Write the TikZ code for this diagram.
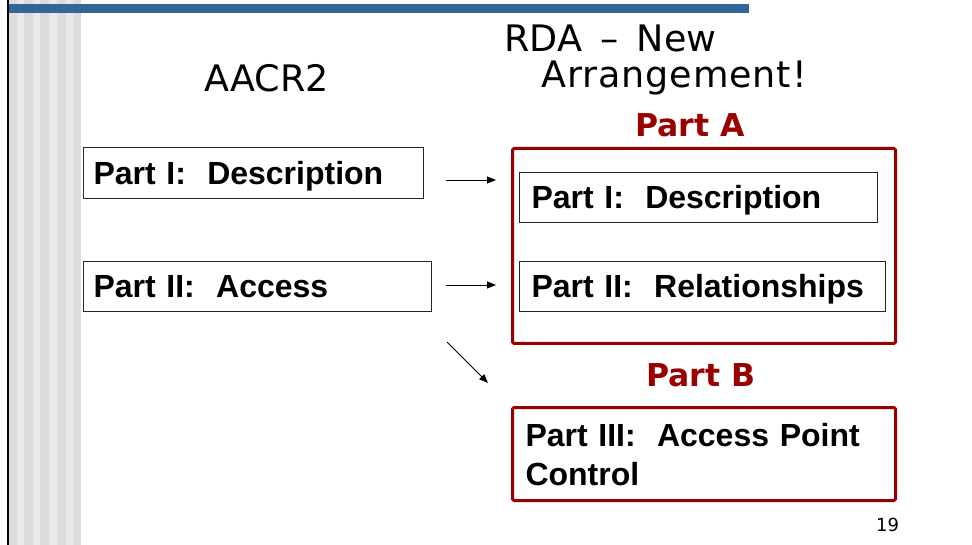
\documentclass[tikz,border=0pt]{standalone}
\usepackage{fontspec}
\setmainfont{Liberation Sans}
\newfontfamily\dvs{DejaVu Sans}
\usetikzlibrary{arrows.meta}
\definecolor{stripeD}{HTML}{DCDCDC}
\definecolor{stripeL}{HTML}{E9E9E9}
\definecolor{barblue}{HTML}{32669A}
\definecolor{darkred}{HTML}{990000}
\begin{document}
\begin{tikzpicture}[x=1pt,y=-1pt,
  plainbox/.style={draw=black!85, line width=1pt, anchor=north west, inner xsep=10pt, inner ysep=0pt,
    text height=23pt, text depth=0pt, align=left, font=\fontsize{32}{39}\selectfont\bfseries},
  redbox/.style={draw=darkred, line width=3pt, rounded corners=1.5pt, anchor=north west, inner sep=0pt},
  titletext/.style={anchor=base west, inner sep=0pt, font=\dvs\fontsize{36.5}{43}\selectfont},
  parthead/.style={anchor=base west, inner sep=0pt, text=darkred, font=\dvs\fontsize{31.5}{36}\selectfont\bfseries},
  arr/.style={-{Triangle[length=9pt,width=7pt]}, line width=0.8pt, black}]
\useasboundingbox (0,0) rectangle (972,545);
% left stripes
\fill[stripeD] (8.5,0) rectangle (80.7,545);
\foreach \a/\b in {16.7/24, 32.7/40, 49/57, 65.7/73}
  \fill[stripeL] (\a,0) rectangle (\b,545);
\fill[black] (7.3,0) rectangle (8.7,545);
% top bar
\fill[barblue] (9,4) rectangle (749,13);
% titles
\node[titletext] (aacr) at (204,92) {AACR2};
\node[titletext] (rda1) at (504,52) {RDA\hspace{0.5em}–\hspace{0.5em}New};
\node[titletext] (rda2) at (541,88) {\addfontfeatures{LetterSpace=2.5}Arrangement!};
\node[parthead] (pa) at (635,137) {Part A};
\node[parthead] (pb) at (646,386) {Part B};
% left boxes
\node[plainbox, text width=320pt, minimum height=51pt] (L1) at (83,147) {Part I:\ \ Description};
\node[plainbox, text width=328pt, minimum height=50pt] (L2) at (83,261) {Part II:\ \ Access};
% part A group
\node[redbox, minimum width=383pt, minimum height=195pt] (A) at (511,147) {};
\node[plainbox, inner xsep=12pt, text width=334pt, minimum height=50pt] (R1) at (519,172) {Part I:\ \ Description};
\node[plainbox, inner xsep=12pt, text width=342pt, minimum height=50pt] (R2) at (519,261) {Part II:\ \ Relationships};
% part B box
\node[redbox, inner xsep=13pt, text width=357pt, minimum height=93pt, align=left,
  text height=23pt, text depth=39pt, font=\fontsize{32}{39}\selectfont\bfseries] (B) at (511,406)
  {Part III:\ \ Access Point\\Control};
% arrows
\coordinate (a1s) at (446,180);
\coordinate (a1e) at (496,180);
\coordinate (a2s) at (446,285);
\coordinate (a2e) at (496,285);
\coordinate (a3s) at (447,342);
\coordinate (a3e) at (488,383);
\draw[arr] (a1s) -- (a1e);
\draw[arr] (a2s) -- (a2e);
\draw[arr] (a3s) -- (a3e);
% page number
\node[anchor=base west, inner sep=0pt, font=\dvs\fontsize{18}{22}\selectfont] (pg) at (876,531) {19};
\end{tikzpicture}
\end{document}
